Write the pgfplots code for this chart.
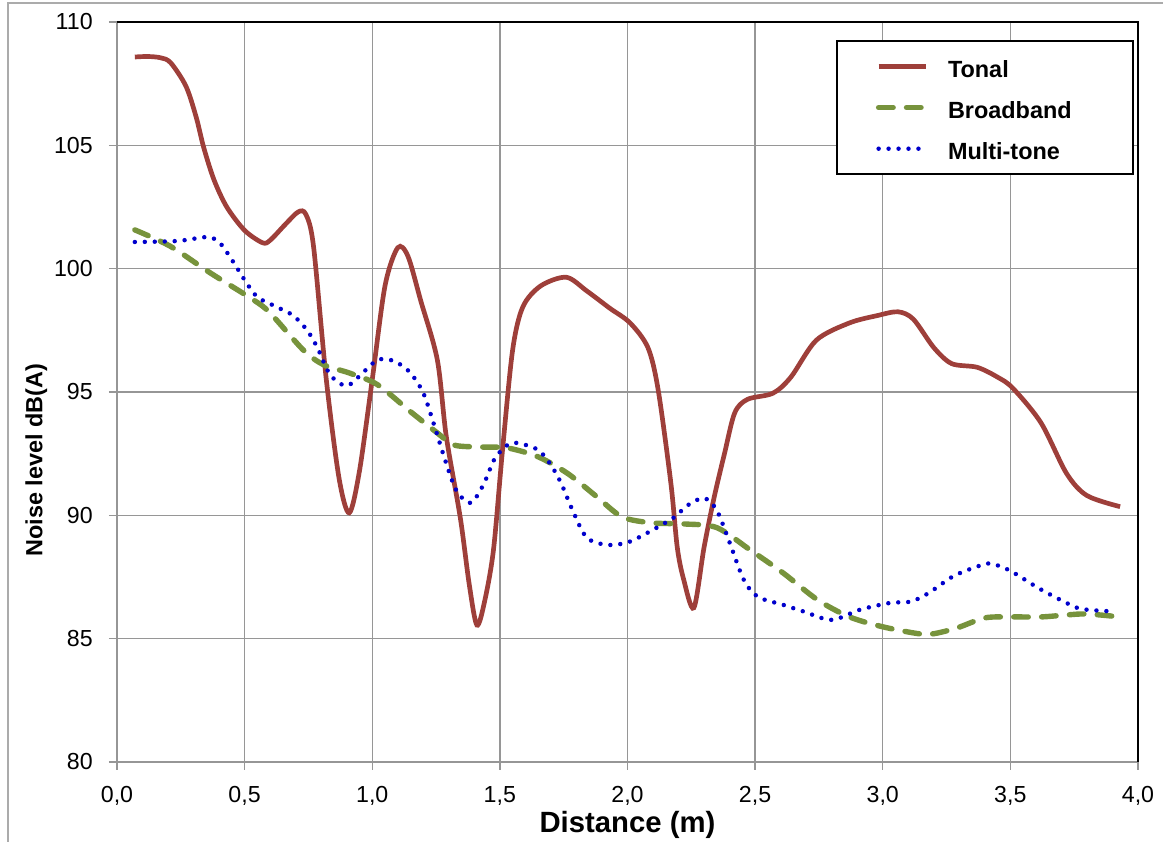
\documentclass[border=0pt]{standalone}
\usepackage{fontspec}
\setmainfont{Liberation Sans}
\usepackage{pgfplots}
\pgfplotsset{compat=1.18}

\definecolor{tonal}{RGB}{158,63,58}
\definecolor{broad}{RGB}{119,147,60}
\definecolor{multi}{RGB}{0,0,204}
\definecolor{gridgray}{RGB}{150,150,150}

\begin{document}
\begin{tikzpicture}
\begin{axis}[
    scale only axis,
    width=15.315cm, height=11.1cm,
    xmin=0, xmax=4, ymin=80, ymax=110,
    xtick={0,0.5,...,4}, ytick={80,85,...,110},
    clip=false,
    grid=major,
    major grid style={gridgray, line width=0.6pt},
    axis line style={gridgray, line width=0.6pt},
    tick style={gridgray, line width=0.6pt},
    tick align=outside, major tick length=0.12cm,
    xtick pos=bottom, ytick pos=left,
    /pgf/number format/assume math mode=true,
    ticklabel style={font=\fontsize{9.9}{12}\selectfont},
    xticklabel style={yshift=-0.12cm, /pgf/number format/.cd, fixed, fixed zerofill, precision=1, use comma},
    yticklabel style={xshift=-0.12cm},
    xlabel={Distance (m)},
    xlabel style={at={(rel axis cs:0.5,-0.085)}, anchor=center, font=\bfseries\fontsize{12.5}{15}\selectfont},
    ylabel={Noise level dB(A)},
    ylabel style={at={(rel axis cs:-0.079,0.408)}, anchor=center, font=\bfseries\fontsize{10}{12}\selectfont},
    legend cell align=left,
    legend image code/.code={\draw[#1] (0cm,0cm) -- (0.705cm,0cm);},
    legend style={at={(rel axis cs:0.704,0.9757)}, anchor=north west,
        draw=black, line width=1pt, fill=white,
        inner xsep=0.585cm, inner ysep=0.145cm,
        column sep=0.225cm, row sep=0.15cm,
        nodes={text width=2.12cm, text height=9.3pt, text depth=0pt},
        font=\bfseries\fontsize{10}{12}\selectfont},
]
\addplot[tonal, line width=2pt, smooth, tension=0.5] coordinates {
(0.07,108.58) (0.12,108.6) (0.17,108.55) (0.21,108.35) (0.27,107.4)
(0.31,106.15) (0.34,104.9) (0.38,103.6) (0.43,102.5) (0.50,101.55)
(0.57,101.05) (0.60,101.15) (0.66,101.8) (0.71,102.3) (0.74,102.2)
(0.77,100.9) (0.82,95.5) (0.87,91.5) (0.91,90.1) (0.95,91.8)
(1.00,95.5) (1.05,99.3) (1.10,100.85) (1.14,100.5) (1.19,98.7)
(1.255,96.3) (1.29,93.2) (1.345,89.9) (1.38,87.2) (1.41,85.55)
(1.44,86.5) (1.475,88.6) (1.51,92.6) (1.55,96.7) (1.59,98.45)
(1.66,99.3) (1.76,99.65) (1.84,99.1) (1.93,98.4) (2.01,97.8)
(2.08,96.8) (2.12,95.1) (2.17,91.3) (2.195,88.7) (2.22,87.4)
(2.26,86.25) (2.30,88.7) (2.34,90.75) (2.38,92.5) (2.42,94.15)
(2.47,94.7) (2.57,94.95) (2.64,95.6) (2.74,97.1) (2.87,97.8)
(2.98,98.1) (3.06,98.25) (3.12,97.95) (3.20,96.8) (3.27,96.15)
(3.37,96.0) (3.45,95.6) (3.51,95.15) (3.62,93.75) (3.72,91.7)
(3.80,90.8) (3.93,90.35)
};
\addlegendentry{Tonal}
\addplot[broad, line width=2.3pt, smooth, tension=0.5, line cap=round, dash pattern=on 6.2pt off 5.7pt] coordinates {
(0.07,101.57) (0.21,100.9) (0.365,99.83) (0.535,98.73) (0.60,98.2)
(0.73,96.7) (0.81,96.1) (0.91,95.77) (1.02,95.3) (1.15,94.2)
(1.255,93.34) (1.32,92.85) (1.42,92.77) (1.53,92.73) (1.65,92.37)
(1.765,91.7) (1.88,90.75) (1.98,89.93) (2.10,89.69) (2.22,89.65)
(2.35,89.5) (2.48,88.6) (2.61,87.66) (2.745,86.57) (2.87,85.88)
(3.00,85.48) (3.14,85.2) (3.20,85.2) (3.29,85.43) (3.40,85.84)
(3.50,85.88) (3.62,85.88) (3.72,85.96) (3.80,86.0) (3.93,85.88)
};
\addlegendentry{Broadband}
\addplot[multi, line width=1.9pt, smooth, tension=0.5, line cap=round, dash pattern=on 0pt off 4.25pt] coordinates {
(0.07,101.08) (0.235,101.12) (0.35,101.28) (0.39,101.16) (0.416,100.88)
(0.46,100.2) (0.50,99.54) (0.55,98.85) (0.625,98.45) (0.69,98.1)
(0.745,97.5) (0.785,96.8) (0.835,95.7) (0.90,95.25) (0.965,95.8)
(1.02,96.3) (1.07,96.3) (1.10,96.18) (1.15,95.77) (1.20,94.96)
(1.24,93.74) (1.29,92.1) (1.33,91.0) (1.385,90.5) (1.435,91.23)
(1.48,92.3) (1.53,92.85) (1.57,92.93) (1.65,92.65) (1.70,92.04)
(1.74,91.3) (1.785,90.2) (1.84,89.1) (1.92,88.8) (2.00,88.9)
(2.08,89.3) (2.18,89.9) (2.235,90.4) (2.30,90.7) (2.35,90.2)
(2.40,88.9) (2.455,87.4) (2.51,86.7) (2.61,86.37) (2.69,86.1)
(2.80,85.76) (2.91,86.17) (3.03,86.45) (3.11,86.5) (3.18,86.85)
(3.28,87.55) (3.39,87.99) (3.43,88.03) (3.50,87.75) (3.61,87.05)
(3.71,86.5) (3.78,86.2) (3.91,86.1)
};
\addlegendentry{Multi-tone}
% plot area border: top and right in black
\draw[black, line width=0.8pt] (rel axis cs:0,1) -- (rel axis cs:1,1) -- (rel axis cs:1,0);
\coordinate (bbl) at (rel axis cs:-0.1146,-0.1081);
\coordinate (btr) at (rel axis cs:1.0245,1.0297);
\coordinate (fl) at (rel axis cs:-0.1068,1.0257);
\end{axis}
\pgfresetboundingbox
\path[use as bounding box] (bbl) rectangle (btr);
\draw[gridgray!80, line width=0.6pt] (fl |- bbl) -- (fl) -- (fl -| btr);
\end{tikzpicture}
\end{document}
